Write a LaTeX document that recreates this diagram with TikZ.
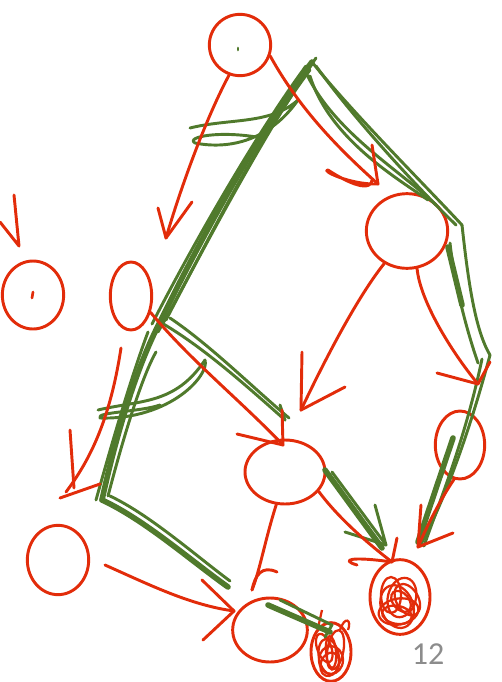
\documentclass[tikz,border=0pt]{standalone}
\usepackage{fontspec}
\usetikzlibrary{arrows.meta,shapes.geometric,calc}
\definecolor{ink}{RGB}{226,44,10}
\definecolor{leaf}{RGB}{80,122,44}
\definecolor{pagenum}{RGB}{140,140,140}
\newfontfamily\numfont{Carlito}
\begin{document}
\begin{tikzpicture}[x=0.75pt,y=-0.75pt,
  rc/.style={ellipse, draw=ink, line width=2.2pt, inner sep=0pt},
  ra/.style={draw=ink, line width=2.2pt, line cap=round, line join=round},
  rl/.style={draw=ink, line width=2.2pt, line cap=round, line join=round},
  scrib/.style={draw=ink, line width=1.7pt},
  gl/.style={draw=leaf, line width=2.2pt, line cap=round, line join=round},
  gt/.style={draw=leaf, line width=4.2pt, line cap=round, line join=round}]
\useasboundingbox (0,0) rectangle (501,682);

% ---------- red nodes ----------
\node[rc, minimum width=46pt, minimum height=46pt] (A) at (240,45) {};
\node[rc, minimum width=61pt, minimum height=56pt] (B) at (407,231) {};
\node[rc, minimum width=31pt, minimum height=51pt] (C) at (131,296) {};
\node[rc, minimum width=46pt, minimum height=51pt] (D) at (33,295) {};
\node[rc, minimum width=60pt, minimum height=48pt] (E) at (285,472) {};
\node[rc, minimum width=37pt, minimum height=51pt] (F) at (460,445) {};
\node[rc, minimum width=46pt, minimum height=52pt] (G) at (58,560) {};
\node[rc, minimum width=56pt, minimum height=48pt] (H) at (270,630) {};
\node[rc, minimum width=45pt, minimum height=56pt] (I) at (400,597) {};
\node[rc, minimum width=30pt, minimum height=44pt] (J) at (331,652) {};

% dots inside A and D
\draw[leaf, line width=2pt, line cap=round] (238,48) -- (238,50);
\draw[ink, line width=2pt, line cap=round] (33,292) -- (32,298);

% scribbles filling I and J
\foreach \dx/\dy/\w/\h/\r in {-6/8/16/22/20, 2/0/14/20/-15, -4/14/20/13/10, 5/6/11/17/30, -9/-2/10/18/0, 0/18/15/9/-10, -2/4/8/12/40}
  \draw[scrib, rotate around={\r:($(I)+(\dx,\dy)$)}] ($(I)+(\dx,\dy)$) ellipse [x radius=\w, y radius=\h];
\foreach \dx/\dy/\w/\h/\r in {-3/4/10/18/10, 4/-3/8/20/-10, 0/8/12/14/0, -5/-6/7/15/20, 3/12/9/12/-20, 0/0/5/16/5}
  \draw[scrib, rotate around={\r:($(J)+(\dx,\dy)$)}] ($(J)+(\dx,\dy)$) ellipse [x radius=\w, y radius=\h];
\draw[scrib] (318,628) -- (322,610);
\draw[scrib] (340,630) .. controls (345,615) and (352,620) .. (348,630);

% ---------- green lattice ----------
\coordinate (T) at (312,62);
\coordinate (L1) at (160,322);
\coordinate (L2) at (102,500);
\coordinate (R1) at (462,225);
\coordinate (R2) at (490,355);
\coordinate (R3) at (420,546);
\coordinate (M1) at (285,420);
\coordinate (B1) at (228,587);

% left ridge bundle
\draw[gt] (T) .. controls (260,130) and (200,240) .. (L1);
\draw[gl] ($(T)+(-6,4)$) .. controls (255,135) and (190,250) .. ($(L1)+(-8,2)$);
\draw[gl] ($(T)+(4,-4)$) .. controls (270,125) and (210,235) .. ($(L1)+(6,-2)$);
\draw[gl] ($(T)+(-2,8)$) .. controls (250,150) and (205,250) .. ($(L1)+(-2,10)$);
\draw[gt] (L1) .. controls (135,370) and (115,440) .. (L2);
\draw[gl] ($(L1)+(-12,10)$) .. controls (130,380) and (110,450) .. ($(L2)+(-6,0)$);
\draw[gl] ($(L1)+(-4,30)$) .. controls (140,380) and (120,450) .. ($(L2)+(6,-4)$);
% right ridge
\draw[gl] (T) .. controls (350,110) and (420,180) .. (R1);
\draw[gl] ($(T)+(4,4)$) .. controls (355,120) and (415,185) .. ($(R1)+(-6,0)$);
\draw[gl] ($(T)+(-8,6)$) .. controls (330,130) and (400,170) .. (436,205);
\draw[gl] ($(T)+(-2,14)$) .. controls (330,140) and (400,180) .. (428,200);
\draw[gl] (R1) .. controls (468,280) and (475,330) .. (R2);
\draw[gl] ($(R1)+(-12,18)$) .. controls (455,290) and (470,340) .. ($(R2)+(-12,8)$);
\draw[gt] ($(R1)+(-14,22)$) -- ($(R1)+(0,80)$);
\draw[gl] (R2) .. controls (470,430) and (445,500) .. (R3);
\draw[gl] ($(R2)+(-8,4)$) .. controls (465,440) and (440,500) .. ($(R3)+(4,0)$);
\draw[gt] (453,438) -- ($(R3)+(-2,-4)$);
% middle branch
\draw[gl] (L1) .. controls (200,345) and (240,380) .. (M1);
\draw[gl] ($(L1)+(10,-4)$) .. controls (210,345) and (250,385) .. ($(M1)+(4,-2)$);
\draw[gl] (M1) -- (280,405);
% lower left branch
\draw[gt] (L2) .. controls (145,520) and (190,560) .. (B1);
\draw[gl] ($(L2)+(8,-4)$) .. controls (150,515) and (195,555) .. ($(B1)+(2,-6)$);
% loop near top
\draw[gl] (190,128) .. controls (230,118) and (270,125) .. (298,100)
          .. controls (270,140) and (230,150) .. (195,143)
          .. controls (185,137) and (220,130) .. (262,138);
% loop lower left
\draw[gl] (98,410) .. controls (140,400) and (175,405) .. (205,360)
          .. controls (210,375) and (170,420) .. (100,418)
          .. controls (95,412) and (140,412) .. (160,405);
% E -> I green
\coordinate (gEI) at (382,548);
\draw[gt] (325,470) -- (gEI);
\draw[gl] (332,472) -- (386,545) -- (375,505);
\draw[gl] (345,532) -- (386,545);
% H -> J green
\draw[gt] (268,605) -- (330,632);
\draw[gl] (280,600) -- (332,625) -- (325,637);

% ---------- red arrows ----------
% A -> down-left
\coordinate (a1) at (166,238);
\draw[ra] (A.250) .. controls (205,120) and (180,190) .. (a1);
\draw[rl] (158,208) -- (a1) -- (192,202);
% A -> B
\coordinate (a2) at (378,184);
\draw[ra] (A.-20) .. controls (300,110) and (340,150) .. (a2);
\draw[rl] (372,145) -- (a2) .. controls (350,185) and (320,170) .. (328,170)
  .. controls (340,178) and (370,195) .. (372,180);
% top-left arrow into D
\coordinate (a3) at (19,246);
\draw[rl] (14,195) -- (a3) -- (0,222);
% B -> down-left
\coordinate (a4) at (301,410);
\draw[ra] (B.-125) .. controls (355,300) and (320,370) .. (a4);
\draw[rl] (302,352) -- (a4) -- (345,387);
% B -> F
\coordinate (a5) at (478,384);
\draw[ra] (B.-75) .. controls (420,300) and (450,350) .. (a5);
\draw[rl] (437,373) -- (a5) -- (490,362);
% C -> E
\coordinate (a6) at (283,445);
\draw[ra] (C.-40) .. controls (190,360) and (240,400) .. (a6);
\draw[rl] (237,434) -- (a6) -- (282,410);
% left arrow down
\coordinate (a7) at (66,492);
\draw[ra] (121,348) .. controls (110,420) and (90,460) .. (a7);
\draw[rl] (70,430) -- (74,488);
\draw[rl] (60,498) -- (100,484);
% E -> H
\coordinate (a8) at (252,590);
\draw[ra] (E.-105) .. controls (265,540) and (260,570) .. (a8);
\draw[rl] (277,572) .. controls (262,565) and (255,575) .. (a8);
% G -> H
\coordinate (a9) at (234,611);
\draw[ra] (105,565) .. controls (150,585) and (190,605) .. (a9);
\draw[rl] (202,580) -- (a9) -- (203,640);
% E -> I
\coordinate (a10) at (392,562);
\draw[ra] (E.-30) .. controls (340,520) and (370,545) .. (a10);
\draw[rl] (397,538) -- (a10);
\draw[rl] (357,565) .. controls (340,560) and (350,556) .. (a10);
% F -> I
\coordinate (a11) at (418,547);
\draw[ra] (F.-100) .. controls (440,500) and (425,530) .. (a11);
\draw[rl] (421,505) -- (a11) -- (453,533);

% page number
\node[text=pagenum, font=\numfont\fontsize{24}{24}\selectfont] (pn) at (428,654) {12};
\end{tikzpicture}
\end{document}
